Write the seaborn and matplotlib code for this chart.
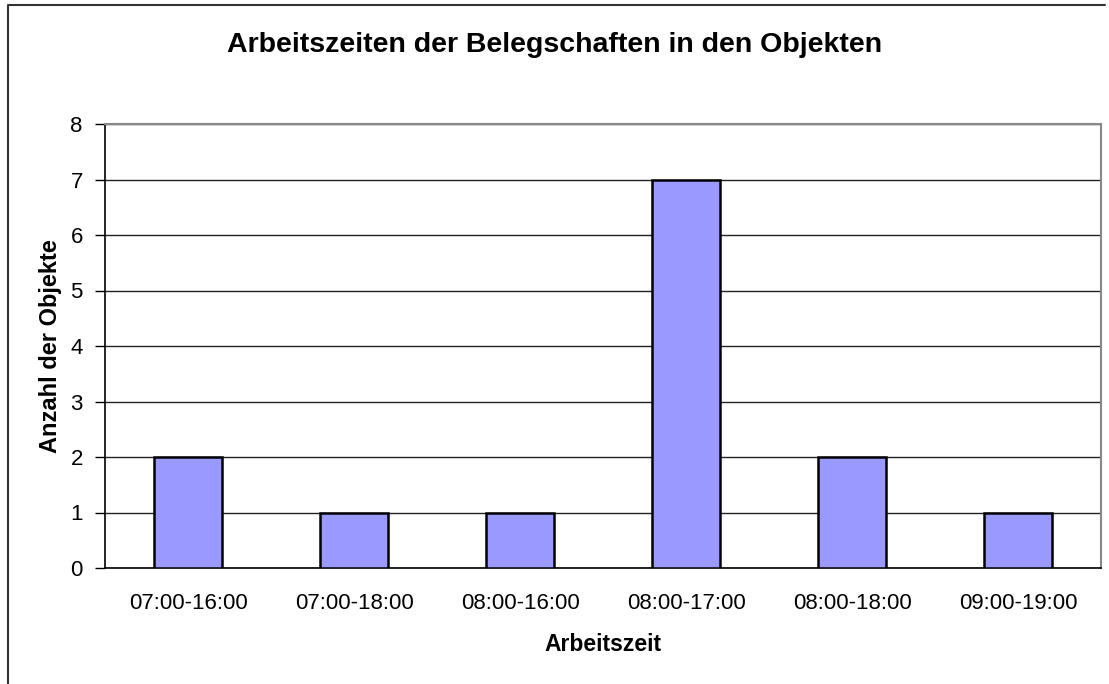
"""
Arbeitszeiten der Belegschaften - bar chart
"""

import matplotlib
matplotlib.use('Agg')
import matplotlib.pyplot as plt
import seaborn as sns
import pandas as pd
from matplotlib.lines import Line2D

# Data
arbeitszeiten = ['07:00-16:00', '07:00-18:00', '08:00-16:00',
                 '08:00-17:00', '08:00-18:00', '09:00-19:00']
anzahl = [2, 1, 1, 7, 2, 1]
y_ticks = [0, 1, 2, 3, 4, 5, 6, 7, 8]

sns.set_style('white')
plt.rcParams['font.family'] = ['Liberation Sans', 'DejaVu Sans']

df = pd.DataFrame({'Arbeitszeit': arbeitszeiten, 'Anzahl': anzahl})

W, H = 1109, 684
fig = plt.figure(figsize=(W / 100, H / 100), dpi=100)
fig.patch.set_facecolor('white')

# plot area in pixel coords: left 105, right 1101, top 124, bottom 568
ax = fig.add_axes([105 / W, (H - 568) / H, (1101 - 105) / W, (568 - 124) / H])

sns.barplot(data=df, x='Arbeitszeit', y='Anzahl', color='#9999FF',
            saturation=1, edgecolor='black', linewidth=1.8, width=0.41,
            ax=ax, zorder=3)

ax.set_ylim(0, 8)
ax.set_xlim(-0.5, len(arbeitszeiten) - 0.5)
ax.set_yticks(y_ticks)
ax.yaxis.grid(True, color='#222222', linewidth=1.0, zorder=0)
ax.set_axisbelow(True)

# category boundary ticks on x axis
ax.set_xticks(range(len(arbeitszeiten)))
ax.set_xticklabels(arbeitszeiten)
ax.set_xticks([i - 0.5 for i in range(len(arbeitszeiten) + 1)], minor=True)
ax.tick_params(axis='x', which='major', length=0, pad=18, labelsize=16,
               labelcolor='black')
ax.tick_params(axis='x', which='minor', length=6, width=1, color='black')
ax.tick_params(axis='y', which='major', length=7, width=1, color='black',
               labelsize=16, pad=9, left=True, labelcolor='black')

for side in ['left', 'bottom']:
    ax.spines[side].set_color('black')
    ax.spines[side].set_linewidth(1.2)
for side in ['top', 'right']:
    ax.spines[side].set_color('#888888')
    ax.spines[side].set_linewidth(1.5)

ax.set_xlabel('Arbeitszeit', fontsize=16.5, fontweight='bold', labelpad=14,
              color='black')
ax.set_ylabel('Anzahl der Objekte', fontsize=17, fontweight='bold',
              labelpad=6, color='black')

fig.text(0.5, 1 - 45 / H, 'Arbeitszeiten der Belegschaften in den Objekten',
         ha='center', va='center', fontsize=20.5, fontweight='bold',
         color='black')

# outer chart frame (cropped at right and bottom)
frame = Line2D([8 / W, 8 / W, 1105 / W], [0, 1 - 5 / H, 1 - 5 / H],
               transform=fig.transFigure, color='#333333', linewidth=1.5)
fig.lines.append(frame)

plt.savefig('out.png', dpi=100)
